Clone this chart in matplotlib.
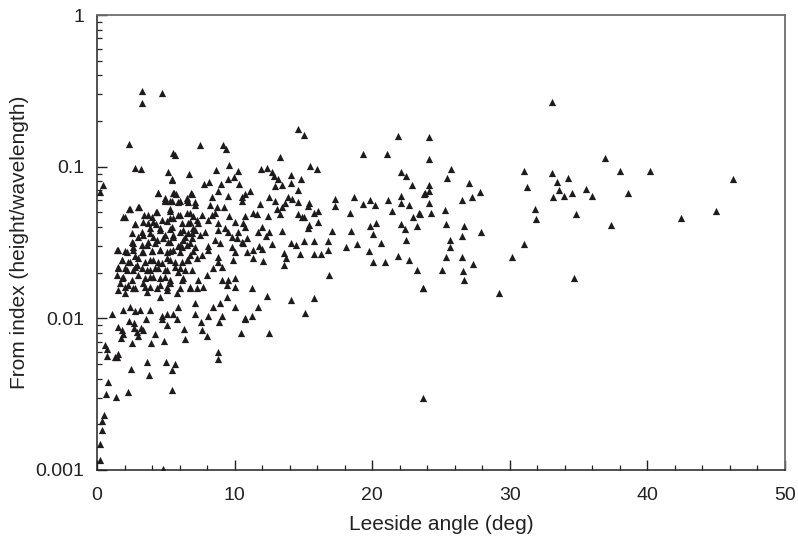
import matplotlib
matplotlib.use("Agg")
import matplotlib.pyplot as plt
from matplotlib.ticker import MultipleLocator, LogLocator, FixedLocator, FixedFormatter, NullFormatter

plt.rcParams['font.family'] = ['Liberation Sans', 'DejaVu Sans']

# ---- data: leeside angle (deg) vs form index ----
x_upper_left = [3.25, 4.70, 3.25, 2.33, 5.50, 2.76, 3.20, 5.18, 5.47, 0.44, 0.20, 4.41, 5.55, 4.94]
y_upper_left = [0.315, 0.307, 0.264, 0.1405, 0.1237, 0.0985, 0.0966, 0.0919, 0.0826, 0.0757, 0.0684, 0.0668, 0.0668, 0.0619]

x_upper_mid = [7.49, 9.18, 9.38, 9.59, 8.63, 10.23, 5.67, 6.69, 9.98, 9.54, 8.14, 7.80, 8.99, 10.32,
               8.77, 11.10, 6.88, 5.72, 9.50, 10.76, 8.33, 6.52, 10.52]
y_upper_mid = [0.1384, 0.1384, 0.1302, 0.1021, 0.0951, 0.0933, 0.120, 0.0891, 0.0859, 0.0834, 0.0793,
               0.0766, 0.0766, 0.0766, 0.0695, 0.0695, 0.0658, 0.0658, 0.0644, 0.0661, 0.0628, 0.0619, 0.0628]

x_blob_left = [4.94, 5.45, 2.40, 2.98, 4.29, 5.31, 3.42, 4.00, 2.03, 2.76, 3.71, 4.29, 5.09, 5.52,
               4.58, 5.31, 3.27, 3.85, 2.54, 2.98, 4.94, 5.52, 3.71, 4.36, 2.62, 3.27, 5.31,
               1.53, 2.18, 2.62, 2.76, 3.34, 4.00, 4.58, 5.09, 5.52, 1.82, 2.25, 2.91, 3.49,
               4.07, 4.72, 5.31, 1.53, 2.03, 2.62, 3.27, 3.85, 4.43, 5.09, 5.67, 1.45, 1.89,
               2.98, 3.49, 4.07, 4.94, 1.67, 2.25, 3.34, 3.85, 4.58, 5.31, 1.53, 2.03, 2.76,
               3.63, 4.58, 5.09, 1.09, 1.89, 2.40, 2.76, 3.13, 3.85, 4.72, 5.09, 5.52]
y_blob_left = [0.0594, 0.0594, 0.0526, 0.0542, 0.0502, 0.0526, 0.0480, 0.0466, 0.0466, 0.0419, 0.0425,
               0.0419, 0.0438, 0.0459, 0.0394, 0.0388, 0.0371, 0.0366, 0.0366, 0.0344, 0.0355, 0.0344,
               0.0319, 0.0329, 0.0314, 0.0305, 0.0319, 0.0283, 0.0275, 0.0283, 0.0258, 0.0275, 0.0279,
               0.0283, 0.0275, 0.0283, 0.0243, 0.0236, 0.0225, 0.0236, 0.0243, 0.0232, 0.0243, 0.0218,
               0.0215, 0.0209, 0.0215, 0.0209, 0.0215, 0.0209, 0.0218, 0.0194, 0.0188, 0.0194, 0.0185,
               0.0188, 0.0188, 0.0171, 0.0166, 0.0171, 0.0161, 0.0166, 0.0171, 0.0154, 0.0147, 0.0159,
               0.0149, 0.0139, 0.0154, 0.0106, 0.0114, 0.0118, 0.0111, 0.0114, 0.0114, 0.0103, 0.0106,
               0.0106]

x_blob_extra = [5.45, 4.43, 5.60, 6.83, 4.94, 5.31, 5.89, 6.54, 7.12, 2.33, 3.05, 3.71, 4.36, 5.31,
                6.03, 6.76, 1.89, 2.76, 3.34, 4.07, 4.72, 5.31, 6.61, 7.27, 3.85, 4.58, 5.45, 6.25,
                6.98, 3.34, 4.07, 4.80, 5.52, 6.40, 6.90, 2.54, 3.63, 4.22, 5.16, 6.03, 6.76, 1.45,
                2.03, 2.62, 3.27, 4.00, 4.58, 5.31, 6.18, 6.98, 1.82, 2.40, 2.98, 3.85, 4.43, 5.09,
                5.67, 6.54, 7.27, 1.53, 2.18, 2.76, 3.63, 4.22, 4.94, 6.03, 6.90, 1.82, 2.54, 3.85,
                4.58, 5.31, 6.25, 2.03, 2.62, 3.49, 4.36, 5.09, 6.03, 6.76]
y_blob_extra = [0.0817, 0.0671, 0.0671, 0.0671, 0.0603, 0.0594, 0.0585, 0.0603, 0.0559, 0.0526, 0.0542,
                0.0480, 0.0502, 0.0510, 0.0480, 0.0494, 0.0466, 0.0419, 0.0432, 0.0432, 0.0445, 0.0459,
                0.0425, 0.0445, 0.0394, 0.0383, 0.0400, 0.0383, 0.0394, 0.0355, 0.0344, 0.0339, 0.0355,
                0.0344, 0.0366, 0.0319, 0.0305, 0.0314, 0.0319, 0.0305, 0.0314, 0.0283, 0.0279, 0.0296,
                0.0275, 0.0279, 0.0283, 0.0279, 0.0296, 0.0279, 0.0243, 0.0236, 0.0250, 0.0243, 0.0236,
                0.0250, 0.0236, 0.0243, 0.0250, 0.0215, 0.0209, 0.0218, 0.0209, 0.0215, 0.0209, 0.0215,
                0.0209, 0.0185, 0.0179, 0.0188, 0.0185, 0.0179, 0.0185, 0.0161, 0.0159, 0.0161, 0.0159,
                0.0161, 0.0159, 0.0161]

x_blob_right = [6.03, 6.61, 7.12, 8.21, 8.72, 9.23, 10.54, 5.89, 6.54, 6.98, 7.63, 8.36, 8.58, 9.59,
                10.76, 11.34, 6.18, 6.76, 7.34, 8.07, 8.79, 10.03, 10.61, 6.03, 6.61, 7.12, 7.85,
                8.79, 9.30, 9.52, 10.25, 10.76, 6.25, 6.90, 7.49, 8.58, 9.81, 10.17, 10.54, 10.90,
                5.89, 6.54, 7.12, 8.07, 8.94, 9.81, 10.61, 6.03, 6.76, 7.63, 8.07, 8.79, 10.03,
                10.90, 11.34, 6.18, 6.61, 8.79, 9.88, 11.34, 5.89, 6.40, 7.34, 7.99, 8.43, 9.08,
                6.18, 6.76, 7.27, 7.70, 9.08, 9.52, 10.03, 9.45, 10.03, 11.26, 5.81, 9.45, 7.12,
                5.89, 8.43, 8.94, 7.12, 8.07, 9.08, 10.03, 10.76, 11.26]
y_blob_right = [0.0594, 0.0585, 0.0585, 0.0559, 0.0542, 0.0542, 0.0594, 0.0480, 0.0494, 0.0473, 0.0480,
                0.0480, 0.0494, 0.0473, 0.0473, 0.0494, 0.0425, 0.0432, 0.0425, 0.0445, 0.0425, 0.0432,
                0.0425, 0.0371, 0.0366, 0.0383, 0.0371, 0.0383, 0.0394, 0.0371, 0.0371, 0.0400, 0.0329,
                0.0339, 0.0355, 0.0329, 0.0344, 0.0339, 0.0319, 0.0339, 0.0301, 0.0305, 0.0296, 0.0301,
                0.0314, 0.0296, 0.0314, 0.0275, 0.0262, 0.0262, 0.0283, 0.0254, 0.0275, 0.0275, 0.0283,
                0.0236, 0.0243, 0.0236, 0.0243, 0.0250, 0.0203, 0.0209, 0.0179, 0.0194, 0.0215, 0.0218,
                0.0179, 0.0159, 0.0159, 0.0161, 0.0179, 0.0179, 0.0185, 0.0166, 0.0161, 0.0159, 0.0147,
                0.0139, 0.0127, 0.0119, 0.0119, 0.0127, 0.0106, 0.0103, 0.0103, 0.0119, 0.0101, 0.0103]

x_lower_left = [1.55, 2.35, 2.71, 1.84, 1.89, 1.74, 2.71, 3.20, 3.37, 3.00, 2.88, 3.54, 4.75, 5.79,
                5.07, 4.22, 2.52, 3.92, 4.87, 6.32, 6.40, 7.54, 7.61, 7.99, 8.89, 10.76, 10.47,
                0.58, 0.70, 0.70, 1.31, 1.55, 1.43, 2.45, 3.66, 4.99, 5.67, 5.43, 3.78, 8.82, 8.82,
                0.82, 0.65, 1.40, 2.25, 5.43, 0.53, 0.39, 0.34, 0.22, 0.20, 4.82]
y_lower_left = [0.0088, 0.0096, 0.0093, 0.0084, 0.0079, 0.0074, 0.0087, 0.0086, 0.0084, 0.0077, 0.0081,
                0.0099, 0.0099, 0.0099, 0.0090, 0.0079, 0.0069, 0.0069, 0.0071, 0.0085, 0.0073, 0.0095,
                0.0084, 0.0076, 0.0094, 0.0099, 0.0080, 0.0067, 0.00625, 0.00565, 0.00554, 0.00582,
                0.00554, 0.00466, 0.00513, 0.00513, 0.00503, 0.00457, 0.00424, 0.00598, 0.00537,
                0.0038, 0.00318, 0.00305, 0.00327, 0.00337, 0.00229, 0.00212, 0.00184, 0.00148,
                0.00117, 0.00102]

x_middle = [14.58, 15.02, 21.85, 13.30, 19.35, 21.08, 11.92, 12.35, 12.74, 15.48, 15.96, 12.89, 13.18,
            14.10, 14.83, 12.96, 13.45, 14.10, 14.58, 22.07, 22.43, 22.87, 23.74, 11.85, 12.50, 12.94,
            13.66, 13.90, 14.19, 14.58, 13.42, 13.06, 13.30, 11.60, 12.40, 15.41, 15.31, 17.30, 17.30,
            18.70, 19.35, 19.86, 20.22, 21.13, 22.07, 22.09, 22.67, 21.42, 23.38, 22.99, 18.41, 14.58,
            14.88, 15.07, 15.79, 16.08, 16.08, 15.41, 15.31, 11.97, 12.50, 11.72, 12.26, 13.42, 17.06,
            18.43, 19.86, 20.25, 20.06, 22.07, 22.41, 23.28, 22.48, 11.77, 11.97, 12.70, 14.10, 14.44,
            15.02, 15.77, 16.77, 18.12, 18.90, 20.64, 19.74, 16.77, 15.79, 16.26, 14.73, 13.61, 13.71,
            13.61, 12.09, 20.06, 20.91, 21.85, 22.67, 23.28, 23.67, 16.88, 12.35, 11.72, 14.10, 15.79,
            15.12, 12.50]
y_middle = [0.178, 0.1625, 0.159, 0.1159, 0.1208, 0.1208, 0.0961, 0.0980, 0.0927, 0.1016, 0.0961, 0.0868,
            0.0826, 0.0885, 0.0826, 0.0746, 0.0760, 0.0777, 0.0698, 0.0927, 0.0872, 0.0754, 0.0664, 0.0568,
            0.0634, 0.0597, 0.0574, 0.0634, 0.0615, 0.0582, 0.0545, 0.0529, 0.0488, 0.0488, 0.0473, 0.0579,
            0.0551, 0.0615, 0.0548, 0.0628, 0.0568, 0.0600, 0.0557, 0.0605, 0.0641, 0.0574, 0.0557, 0.0513,
            0.0493, 0.0466, 0.0497, 0.0488, 0.0468, 0.0466, 0.0497, 0.0513, 0.0430, 0.0413, 0.0396, 0.0402,
            0.0373, 0.0373, 0.0349, 0.0377, 0.0377, 0.0379, 0.0406, 0.0424, 0.0360, 0.0417, 0.0390, 0.0406,
            0.0329, 0.0300, 0.0285, 0.0308, 0.0314, 0.0303, 0.0325, 0.0325, 0.0325, 0.0297, 0.0308, 0.0313,
            0.0279, 0.0282, 0.0266, 0.0266, 0.0266, 0.0271, 0.0249, 0.0224, 0.0238, 0.0236, 0.0236, 0.0258,
            0.0243, 0.0207, 0.0158, 0.0192, 0.0141, 0.0118, 0.0132, 0.0136, 0.0109, 0.00805]

x_right = [33.09, 24.15, 24.15, 25.75, 25.46, 27.03, 24.15, 23.86, 24.15, 27.86, 27.23, 26.55, 24.15,
           23.47, 24.30, 25.31, 25.38, 26.65, 26.55, 27.88, 25.68, 25.63, 25.38, 26.55, 27.33, 25.07,
           26.62, 26.65, 23.69, 29.24, 23.69, 31.03, 31.23, 31.83, 31.93, 31.03, 30.16, 33.09, 33.41,
           34.23, 33.55, 33.16, 33.94, 34.54, 35.54, 36.00, 34.79, 36.90, 37.38, 38.03, 38.57, 40.21,
           34.67, 42.42, 45.01, 46.20]
y_right = [0.266, 0.158, 0.1124, 0.0966, 0.0847, 0.0785, 0.0757, 0.0674, 0.0695, 0.0684, 0.0634, 0.0600,
           0.0579, 0.0488, 0.0497, 0.0516, 0.0421, 0.0406, 0.0348, 0.0370, 0.0327, 0.0294, 0.0253, 0.0253,
           0.0229, 0.0208, 0.0204, 0.0178, 0.0158, 0.0146, 0.0030, 0.0933, 0.0738, 0.0526, 0.0450, 0.0308,
           0.0253, 0.0908, 0.0796, 0.0847, 0.0698, 0.0631, 0.0641, 0.0671, 0.0710, 0.0641, 0.0488, 0.1136,
           0.0415, 0.0933, 0.0668, 0.0933, 0.0185, 0.0457, 0.0513, 0.0826]

x_label_text = "Leeside angle (deg)"
y_label_text = "From index (height/wavelength)"
y_tick_values = [0.001, 0.01, 0.1, 1]
y_tick_text = ["0.001", "0.01", "0.1", "1"]

x_all = (x_upper_left + x_upper_mid + x_blob_left + x_blob_extra + x_blob_right
         + x_lower_left + x_middle + x_right)
y_all = (y_upper_left + y_upper_mid + y_blob_left + y_blob_extra + y_blob_right
         + y_lower_left + y_middle + y_right)

fig = plt.figure(figsize=(7.98, 5.41), dpi=100)
ax = fig.add_axes([97/798, 1 - 470/541, (785 - 97)/798, (470 - 15)/541])

ax.scatter(x_all, y_all, marker='^', s=27, color='#1e1b1c', linewidths=0, zorder=3)

ax.set_yscale('log')
ax.set_xlim(0, 50)
ax.set_ylim(0.001, 1)

ax.xaxis.set_major_locator(MultipleLocator(10))
ax.xaxis.set_minor_locator(MultipleLocator(2))
ax.yaxis.set_major_locator(FixedLocator(y_tick_values))
ax.yaxis.set_major_formatter(FixedFormatter(y_tick_text))
ax.yaxis.set_minor_locator(LogLocator(base=10, subs=range(2, 10)))
ax.yaxis.set_minor_formatter(NullFormatter())

ax.tick_params(which='major', direction='in', length=7, width=1.0, color='#222222',
               labelsize=14, pad=9, top=False, right=False)
ax.tick_params(axis='x', which='major', pad=12)
ax.tick_params(which='minor', direction='in', length=3.5, width=0.9, color='#222222',
               top=False, right=False)

for side in ['left', 'bottom']:
    ax.spines[side].set_color('#222222')
    ax.spines[side].set_linewidth(1.1)
for side in ['top', 'right']:
    ax.spines[side].set_color('#6e6e6e')
    ax.spines[side].set_linewidth(1.3)

ax.set_xlabel(x_label_text, fontsize=15, color='#222222', labelpad=8)
ax.set_ylabel(y_label_text, fontsize=15, color='#222222', labelpad=5)
for lbl in ax.get_xticklabels() + ax.get_yticklabels():
    lbl.set_color('#222222')

fig.savefig("out.png", dpi=100)
